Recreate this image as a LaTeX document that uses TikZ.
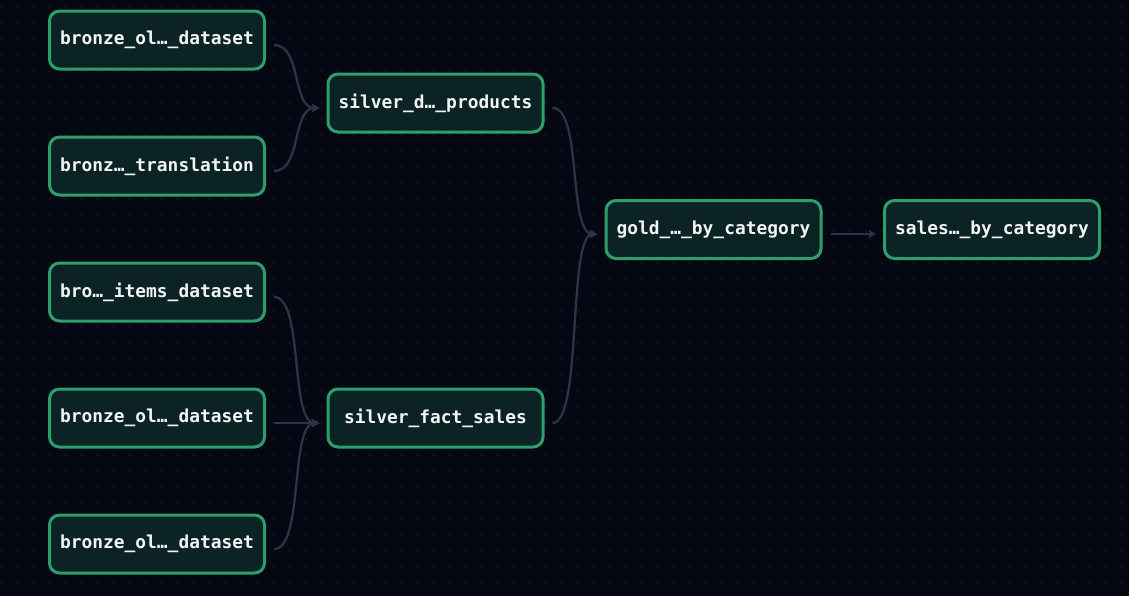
\documentclass[tikz,border=0pt]{standalone}
\usepackage{fontspec}
\setmonofont{DejaVu Sans Mono}
\usepackage{xcolor}
\usetikzlibrary{arrows.meta,calc}

\definecolor{canvas}{HTML}{050812}
\definecolor{griddot}{HTML}{1E2232}
\definecolor{assetfill}{HTML}{0C2325}
\definecolor{assetline}{HTML}{2E9E6C}
\definecolor{flowline}{HTML}{30324A}
\definecolor{assettext}{HTML}{F2F4F3}

\begin{document}
\begin{tikzpicture}[
  x=0.75pt, y=-0.75pt,
  asset/.style={rectangle, rounded corners=7.5pt, draw=assetline, line width=2.25pt, fill=assetfill,
    minimum width=161.25pt, minimum height=43.5pt, inner sep=0pt,
    font=\fontsize{13.4}{15}\selectfont\ttfamily\bfseries, text=assettext},
  flow/.style={-{Stealth[length=6pt,width=6.5pt]}, line width=1.7pt, flowline},
  >=Stealth
]
  % Canvas and dot grid
  \fill[canvas] (0,0) rectangle (1129,596);
  \useasboundingbox (0,0) rectangle (1129,596);
  \foreach \i in {0,...,70}
    \foreach \j in {0,...,36}
      \fill[griddot] (2+16*\i, 7+16*\j) circle (0.6pt);

  % Bronze layer (left)
  \node[asset] (ol1) at (157, 40) {bronze\_ol…\_dataset};
  \node[asset] (trans) at (157, 166) {bronz…\_translation};
  \node[asset] (items) at (157, 292) {bro…\_items\_dataset};
  \node[asset] (ol2) at (157, 418) {bronze\_ol…\_dataset};
  \node[asset] (ol3) at (157, 544) {bronze\_ol…\_dataset};

  % Silver layer
  \node[asset] (prod) at (435.5, 103) {silver\_d…\_products};
  \node[asset] (fact) at (435.5, 418) {silver\_fact\_sales};

  % Gold layer and output
  \node[asset] (gold) at (713.5, 229.5) {gold\_…\_by\_category};
  \node[asset] (sales) at (992, 229.5) {sales…\_by\_category};

  % Bronze -> silver
  \draw[flow] ($(ol1.east)+(8,5)$) .. controls +(28,0) and +(-28,0) .. ($(prod.west)+(-7,5)$);
  \draw[flow] ($(trans.east)+(8,5)$) .. controls +(28,0) and +(-28,0) .. ($(prod.west)+(-7,5)$);
  \draw[flow] ($(items.east)+(8,5)$) .. controls +(30,0) and +(-30,0) .. ($(fact.west)+(-7,5)$);
  \draw[flow] ($(ol2.east)+(8,5)$) -- ($(fact.west)+(-7,5)$);
  \draw[flow] ($(ol3.east)+(8,5)$) .. controls +(30,0) and +(-30,0) .. ($(fact.west)+(-7,5)$);

  % Silver -> gold -> sales
  \draw[flow] ($(prod.east)+(8,5)$) .. controls +(30,0) and +(-30,0) .. ($(gold.west)+(-7,4.5)$);
  \draw[flow] ($(fact.east)+(8,5)$) .. controls +(30,0) and +(-30,0) .. ($(gold.west)+(-7,4.5)$);
  \draw[flow] ($(gold.east)+(8,4.5)$) -- ($(sales.west)+(-7,4.5)$);
\end{tikzpicture}
\end{document}
